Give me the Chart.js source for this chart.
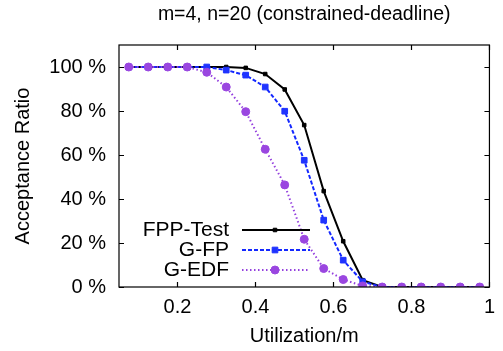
<!DOCTYPE html>
<html>
<head>
<meta charset="utf-8">
<script src="https://cdn.jsdelivr.net/npm/chart.js@4.4.1/dist/chart.umd.min.js"></script>
<style>
  html, body { margin: 0; padding: 0; background: #fff; }
  #myChart { display: block; }
</style>
</head>
<body>
<canvas id="myChart" width="503" height="351"></canvas>
<script>
const utilization = [0.075, 0.125, 0.175, 0.225, 0.275, 0.325, 0.375, 0.425, 0.475, 0.525,
                     0.575, 0.625, 0.675, 0.725, 0.775, 0.825, 0.875, 0.925, 0.975];
const fppTest = [100, 100, 100, 100, 100, 100, 99.6, 96.8, 89.8, 73.6, 43.6, 20.8, 3.1, 0, 0, 0, 0, 0, 0];
const gFP     = [100, 100, 100, 100, 100, 98.6, 96.3, 90.9, 79.9, 57.6, 30.4, 12.2, 2.4, 0, 0, 0, 0, 0, 0];
const gEDF    = [100, 100, 100, 100, 97.6, 90.9, 79.7, 62.6, 46.4, 21.7, 8.4, 3.4, 0.5, 0, 0, 0, 0, 0, 0];
const xTicks = [0.2, 0.4, 0.6, 0.8, 1];
const yTicks = [0, 20, 40, 60, 80, 100];
const titleText = 'm=4, n=20 (constrained-deadline)';

const FONT = '"Liberation Sans", Arial, sans-serif';
const ctx = document.getElementById('myChart').getContext('2d');

function toPoints(values) {
    return values.map((v, i) => ({ x: utilization[i], y: v }));
}

// gnuplot style frame: full box, inward ticks on all sides, title and key
const framePlugin = {
    id: 'frame',
    afterDatasetsDraw(chart) {
        const c = chart.ctx;
        const a = chart.chartArea;
        const xs = chart.scales.x, ys = chart.scales.y;
        c.save();
        c.strokeStyle = '#000';
        c.lineWidth = 1.2;
        c.strokeRect(a.left, a.top, a.right - a.left, a.bottom - a.top);
        const tl = 5;
        c.beginPath();
        xTicks.forEach(t => {
            const px = Math.round(xs.getPixelForValue(t)) + 0.5;
            c.moveTo(px, a.bottom); c.lineTo(px, a.bottom - tl);
            c.moveTo(px, a.top); c.lineTo(px, a.top + tl);
        });
        yTicks.forEach(t => {
            const py = Math.round(ys.getPixelForValue(t)) + 0.5;
            c.moveTo(a.left, py); c.lineTo(a.left + tl, py);
            c.moveTo(a.right, py); c.lineTo(a.right - tl, py);
        });
        c.stroke();

        // title
        c.fillStyle = '#000';
        c.font = '19.5px ' + FONT;
        c.textAlign = 'center';
        c.textBaseline = 'middle';
        c.fillText(titleText, (a.left + a.right) / 2, 15);

        // key
        c.font = '21px ' + FONT;
        c.textAlign = 'right';
        const textX = a.left + 110, lineX0 = a.left + 123, lineX1 = a.left + 191, markX = a.left + 156;
        chart.data.datasets.forEach((ds, i) => {
            const y = a.top + 185 + i * 20;
            c.fillStyle = '#000';
            c.fillText(ds.label, textX, y);
            c.save();
            c.strokeStyle = ds.borderColor;
            c.lineWidth = ds.borderWidth;
            c.setLineDash(ds.borderDash || []);
            c.beginPath();
            c.moveTo(lineX0, y); c.lineTo(lineX1, y);
            c.stroke();
            c.restore();
            c.fillStyle = ds.pointBackgroundColor;
            c.strokeStyle = ds.pointBorderColor;
            c.lineWidth = ds.pointBorderWidth;
            Chart.helpers.drawPoint(c, { pointStyle: ds.pointStyle, radius: ds.pointRadius, rotation: 0, borderWidth: ds.pointBorderWidth }, markX, y);
        });
        c.restore();
    }
};

const chart = new Chart(ctx, {
    type: 'line',
    data: {
        datasets: [{
            label: 'FPP-Test',
            data: toPoints(fppTest),
            borderColor: '#000000',
            borderWidth: 2,
            pointStyle: 'rect',
            pointRadius: 2.5,
            pointBackgroundColor: '#000000',
            pointBorderColor: '#000000',
            pointBorderWidth: 1,
            order: 3
        }, {
            label: 'G-FP',
            data: toPoints(gFP),
            borderColor: '#1428ff',
            borderWidth: 2,
            borderDash: [4, 2],
            pointStyle: 'rect',
            pointRadius: 4,
            pointBackgroundColor: '#1f33ff',
            pointBorderColor: '#1f33ff',
            pointBorderWidth: 1,
            order: 2
        }, {
            label: 'G-EDF',
            data: toPoints(gEDF),
            borderColor: '#9440de',
            borderWidth: 2,
            borderDash: [1.5, 2.5],
            pointStyle: 'circle',
            pointRadius: 4,
            pointBackgroundColor: '#9a46e0',
            pointBorderColor: '#9a46e0',
            pointBorderWidth: 1,
            order: 1
        }]
    },
    options: {
        responsive: false,
        animation: false,
        layout: { padding: { top: 45, right: 7, left: 0, bottom: 0 } },
        plugins: {
            legend: { display: false },
            tooltip: { enabled: false }
        },
        scales: {
            x: {
                type: 'linear',
                min: 0.05,
                max: 1,
                afterBuildTicks: s => { s.ticks = xTicks.map(v => ({ value: v })); },
                afterFit: s => { s.height = 64; },
                grid: { display: false, drawTicks: false },
                border: { display: false },
                ticks: {
                    color: '#000',
                    padding: 8,
                    maxRotation: 0,
                    font: { family: FONT, size: 20 },
                    callback: v => String(v)
                },
                title: {
                    display: true,
                    text: 'Utilization/m',
                    color: '#000',
                    font: { family: FONT, size: 20 },
                    padding: { top: 0, bottom: 3 }
                }
            },
            y: {
                min: 0,
                max: 110,
                afterBuildTicks: s => { s.ticks = yTicks.map(v => ({ value: v })); },
                afterFit: s => { s.width = 119; },
                grid: { display: false, drawTicks: false },
                border: { display: false },
                ticks: {
                    color: '#000',
                    padding: 13,
                    font: { family: FONT, size: 20 },
                    callback: v => v + ' %'
                },
                title: {
                    display: true,
                    text: 'Acceptance Ratio',
                    color: '#000',
                    font: { family: FONT, size: 20 },
                    padding: { top: 11, bottom: 0 }
                }
            }
        }
    },
    plugins: [framePlugin]
});
</script>
</body>
</html>
